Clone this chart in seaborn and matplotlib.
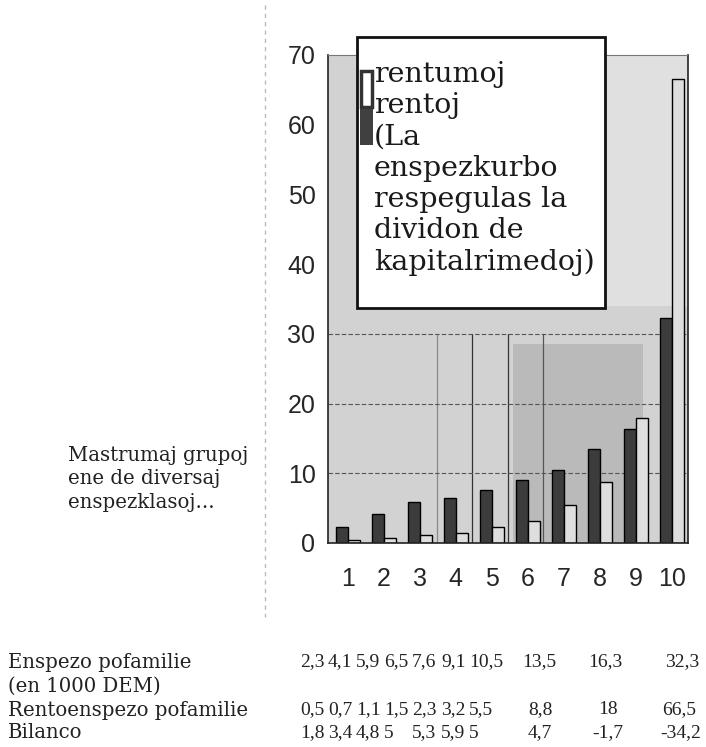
import pandas as pd
import seaborn as sns
import matplotlib.pyplot as plt
from matplotlib.patches import Rectangle
from matplotlib.lines import Line2D

# data
groups = [str(i) for i in range(1, 11)]
enspezo = [2.3, 4.1, 5.9, 6.5, 7.6, 9.1, 10.5, 13.5, 16.3, 32.3]
rento = [0.5, 0.7, 1.1, 1.5, 2.3, 3.2, 5.5, 8.8, 18, 66.5]
bilanco = [1.8, 3.4, 4.8, 5, 5.3, 5.9, 5, 4.7, -1.7, -34.2]
yticks = [0, 10, 20, 30, 40, 50, 60, 70]

legend_text = ("rentumoj\nrentoj\n(La\nenspezkurbo\nrespegulas la\n"
               "dividon de\nkapitalrimedoj)")
side_text = "Mastrumaj grupoj\nene de diversaj\nenspezklasoj..."
row_labels = ["Enspezo pofamilie", "(en 1000 DEM)",
              "Rentoenspezo pofamilie", "Bilanco"]

df = pd.DataFrame({
    "grupo": groups * 2,
    "valoro": enspezo + rento,
    "serio": ["enspezo"] * 10 + ["rento"] * 10,
})

sns.set_style("white")
plt.rcParams["font.family"] = ["Liberation Sans", "DejaVu Sans"]

W, H = 706, 747
fig = plt.figure(figsize=(W / 100, H / 100), dpi=100)
ax = fig.add_axes([328 / W, 1 - 543 / H, 360 / W, (543 - 55) / H])
ax.set_facecolor("#d2d2d2")

# scan-like background blocks
ax.add_patch(Rectangle((7.0, 34), 2.45, 36, facecolor="#e0e0e0",
                       edgecolor="none", zorder=0))
ax.add_patch(Rectangle((4.58, 0), 3.62, 28.5, facecolor="#bababa",
                       edgecolor="none", zorder=0))
for xv, c in [(2.47, "#8a8a8a"), (3.44, "#333333"), (4.44, "#333333"), (5.42, "#555555")]:
    ax.axvline(xv, ymax=30 / 70, color=c, lw=0.9, zorder=0.5)
for yv in [10, 20, 30]:
    ax.axhline(yv, color="#555555", lw=0.8, ls=(0, (4, 2)), zorder=0.5)

sns.barplot(data=df, x="grupo", y="valoro", hue="serio",
            palette={"enspezo": "#3c3c3c", "rento": "#dedede"},
            width=0.66, edgecolor="black", linewidth=1.0,
            legend=False, ax=ax, zorder=2)

ax.set_xlim(-0.55, 9.45)
ax.set_ylim(0, 70)
ax.set_yticks(yticks)
ax.set_xlabel("")
ax.set_ylabel("")
ax.tick_params(axis="y", length=0, pad=9, labelsize=18)
ax.tick_params(axis="x", length=0, pad=17, labelsize=18)
for s in ["left", "bottom", "right"]:
    ax.spines[s].set_color("#222222")
    ax.spines[s].set_linewidth(1.2)
ax.spines["top"].set_color("#777777")
ax.spines["top"].set_linestyle((0, (2, 1)))

# legend box, drawn by hand like the scanned original
fig.add_artist(Rectangle((357 / W, 1 - 308 / H), 248 / W, 271 / H,
                         transform=fig.transFigure, facecolor="white",
                         edgecolor="#111111", lw=2, zorder=5))
fig.add_artist(Rectangle((361 / W, 1 - 107 / H), 11 / W, 36 / H,
                         transform=fig.transFigure, facecolor="white",
                         edgecolor="#333333", lw=2.5, zorder=6))
fig.add_artist(Rectangle((360 / W, 1 - 145 / H), 13 / W, 36 / H,
                         transform=fig.transFigure, facecolor="#404040",
                         edgecolor="none", zorder=6))
fig.text(374 / W, 1 - 61 / H, legend_text, ha="left", va="top",
         family="DejaVu Serif", size=20.5, linespacing=1.2,
         color="#1a1a1a", zorder=7)

# faint scan line on the left
fig.add_artist(Line2D([265 / W, 265 / W], [1 - 5 / H, 1 - 617 / H],
                      transform=fig.transFigure, color="#bbbbbb",
                      lw=1, ls=(0, (3, 3))))

fig.text(68 / W, 1 - 446 / H, side_text, ha="left", va="top",
         family="DejaVu Serif", size=14.2, linespacing=1.3, color="#222222")

row_y = [662, 686, 710, 733]
for lab, yy in zip(row_labels, row_y):
    fig.text(8 / W, 1 - yy / H, lab, ha="left", va="center",
             family="DejaVu Serif", size=14.2, color="#222222")


def fmt(v):
    return f"{v:g}".replace(".", ",")


col1 = [300, 328, 356, 384, 412, 441, 469, 522, 588, 665]
col3 = [300, 328, 356, 384, 412, 441, 469, 528, 598, 662]
col4 = [300, 328, 356, 384, 412, 441, 469, 528, 592, 660]
for vals, cols, yy in [(enspezo, col1, 662), (rento, col3, 710), (bilanco, col4, 733)]:
    for v, xx in zip(vals, cols):
        fig.text(xx / W, 1 - yy / H, fmt(v), ha="left", va="center",
                 family="Liberation Serif", size=14, color="#222222")

fig.savefig("out.png", dpi=100)
